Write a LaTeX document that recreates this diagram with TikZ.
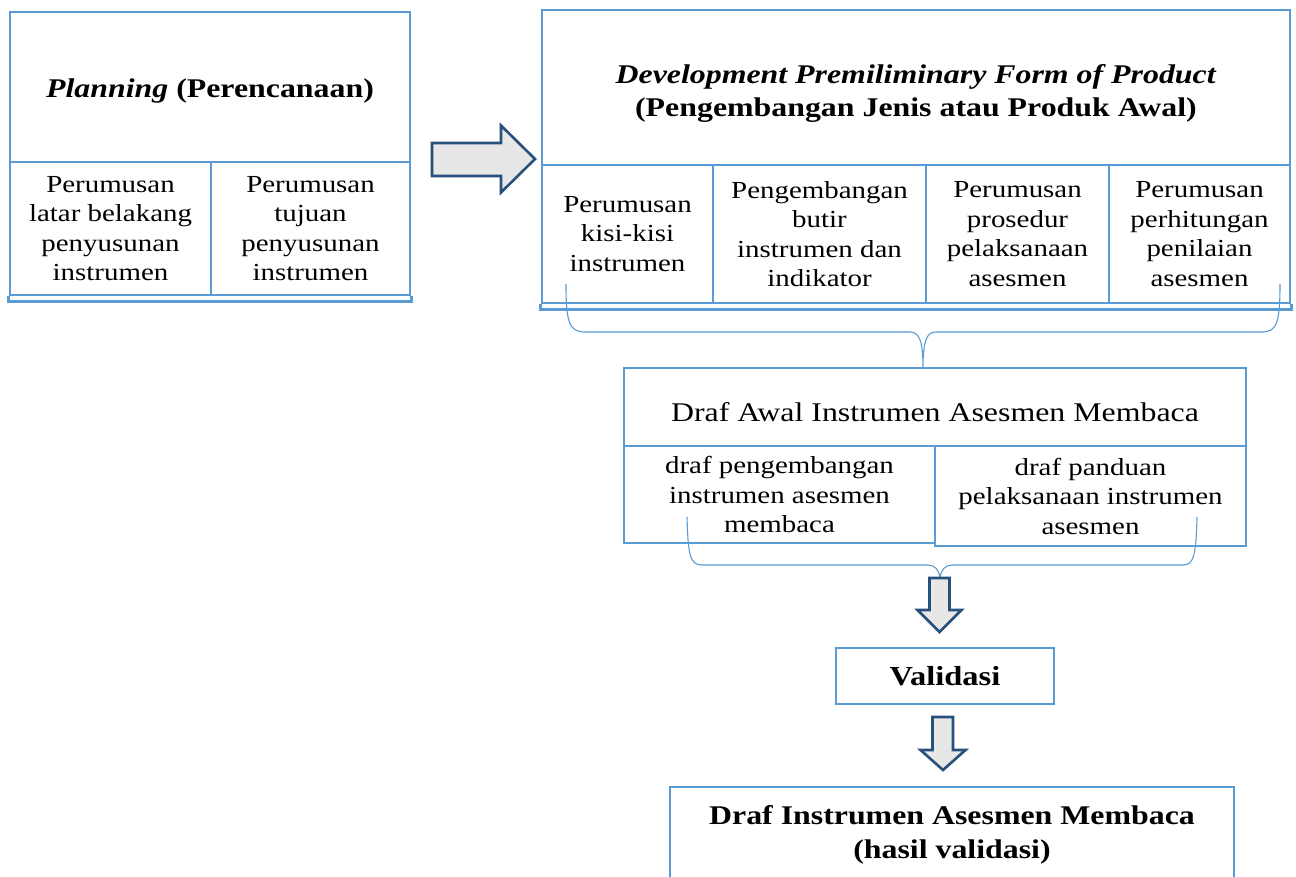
\documentclass[tikz,border=0pt]{standalone}
\usepackage{fontspec}
\setmainfont[FakeStretch=1.18]{Liberation Serif}
\definecolor{boxblue}{RGB}{91,155,213}
\definecolor{arrowblue}{RGB}{40,80,125}
\definecolor{arrowfill}{RGB}{231,231,231}
\begin{document}
\begin{tikzpicture}[x=1pt,y=-1pt,
  boxline/.style={draw=boxblue, line width=2.9pt},
  cell/.style={boxline, rectangle, inner sep=0pt, align=center, font=\fontsize{24.5}{29.5}\selectfont},
  plain/.style={rectangle, inner sep=0pt, align=center},
  blockarrow/.style={draw=arrowblue, fill=arrowfill, line width=2.6pt, line join=miter},
  bracepath/.style={draw=boxblue, line width=1.1pt}]
\useasboundingbox[fill=white] (0,0) rectangle (1296,877);

% ---------- Planning box ----------
\node[cell, minimum width=400, minimum height=150] (plan) at (210,87) {};
\node[plain, font=\fontsize{27}{32}\selectfont\bfseries] (plantext) at (210,91) {\textit{Planning} (Perencanaan)};
\node[cell, minimum width=201, minimum height=133] (lc1) at (110.5,228.5) {Perumusan\\latar belakang\\penyusunan\\instrumen};
\node[cell, minimum width=199, minimum height=133] (lc2) at (310.5,228.5) {Perumusan\\tujuan\\penyusunan\\instrumen};
\draw[boxline] (lc1.south west) -- ++(0,5) -| (lc2.south east);

% ---------- big arrow ----------
\draw[blockarrow] (432,143) -- (501,143) -- (501,125.5) -- (535,159) -- (501,192.5) -- (501,176) -- (432,176) -- cycle;

% ---------- Development box ----------
\node[cell, minimum width=748, minimum height=155] (dev) at (916,87.5) {};
\node[plain, font=\fontsize{27}{33}\selectfont\bfseries] (devtext) at (916,93) {\textit{Development Premiliminary Form of Product}\\(Pengembangan Jenis atau Produk Awal)};
\node[cell, minimum width=171, minimum height=138] (rc1) at (627.5,234) {Perumusan\\kisi-kisi\\instrumen};
\node[cell, minimum width=213, minimum height=138] (rc2) at (819.5,234) {Pengembangan\\butir\\instrumen dan\\indikator};
\node[cell, minimum width=183, minimum height=138] (rc3) at (1017.5,234) {Perumusan\\prosedur\\pelaksanaan\\asesmen};
\node[cell, minimum width=181, minimum height=138] (rc4) at (1199.5,234) {Perumusan\\perhitungan\\penilaian\\asesmen};
\draw[boxline] (rc1.south west) -- ++(0,5) -| (rc4.south east);

% ---------- brace 1 ----------
\coordinate (b1l) at (566,284);
\coordinate (b1r) at (1280,284);
\coordinate (b1tip) at (923,368);
\draw[bracepath] (b1l) .. controls (566,322) and (569,332) .. (585,332) -- (910,332)
  .. controls (919,332) and (923,340) .. (b1tip)
  .. controls (923,340) and (927,332) .. (936,332) -- (1262,332)
  .. controls (1277,332) and (1280,322) .. (b1r);

% ---------- Draf Awal box ----------
\node[cell, minimum width=622, minimum height=78] (draf) at (935,407) {};
\node[plain, font=\fontsize{27}{31}\selectfont] (draftext) at (935,412) {Draf Awal Instrumen Asesmen Membaca};
\node[cell, minimum width=311, minimum height=97] (dl) at (779.5,494.5) {draf pengembangan\\instrumen asesmen\\membaca};
\node[cell, minimum width=311, minimum height=100] (dr) at (1090.5,496) {draf panduan\\pelaksanaan instrumen\\asesmen};

% ---------- brace 2 ----------
\coordinate (b2l) at (687,517);
\coordinate (b2r) at (1197,517);
\coordinate (b2tip) at (940,578);
\draw[bracepath] (b2l) .. controls (688,555) and (690,565) .. (702,565) -- (928,565)
  .. controls (935,565) and (939,570) .. (b2tip)
  .. controls (941,570) and (945,565) .. (952,565) -- (1183,565)
  .. controls (1194,565) and (1196,555) .. (b2r);

% ---------- arrow 1 ----------
\draw[blockarrow] (929.5,578) -- (949.5,578) -- (949.5,610) -- (961.5,610) -- (939.5,632) -- (917.5,610) -- (929.5,610) -- cycle;

% ---------- Validasi ----------
\node[cell, minimum width=218, minimum height=56, font=\fontsize{27.5}{32}\selectfont\bfseries] (val) at (945,676) {Validasi};

% ---------- arrow 2 ----------
\draw[blockarrow] (932.5,717) -- (953,717) -- (953,750) -- (965.5,750) -- (943,770) -- (920.5,750) -- (932.5,750) -- cycle;

% ---------- final box ----------
\node[cell, minimum width=564, minimum height=113] (final) at (952,843.5) {};
\node[plain, font=\fontsize{27}{34.5}\selectfont\bfseries] (finaltext) at (952,835) {Draf Instrumen Asesmen Membaca\\(hasil validasi)};
\end{tikzpicture}
\end{document}
